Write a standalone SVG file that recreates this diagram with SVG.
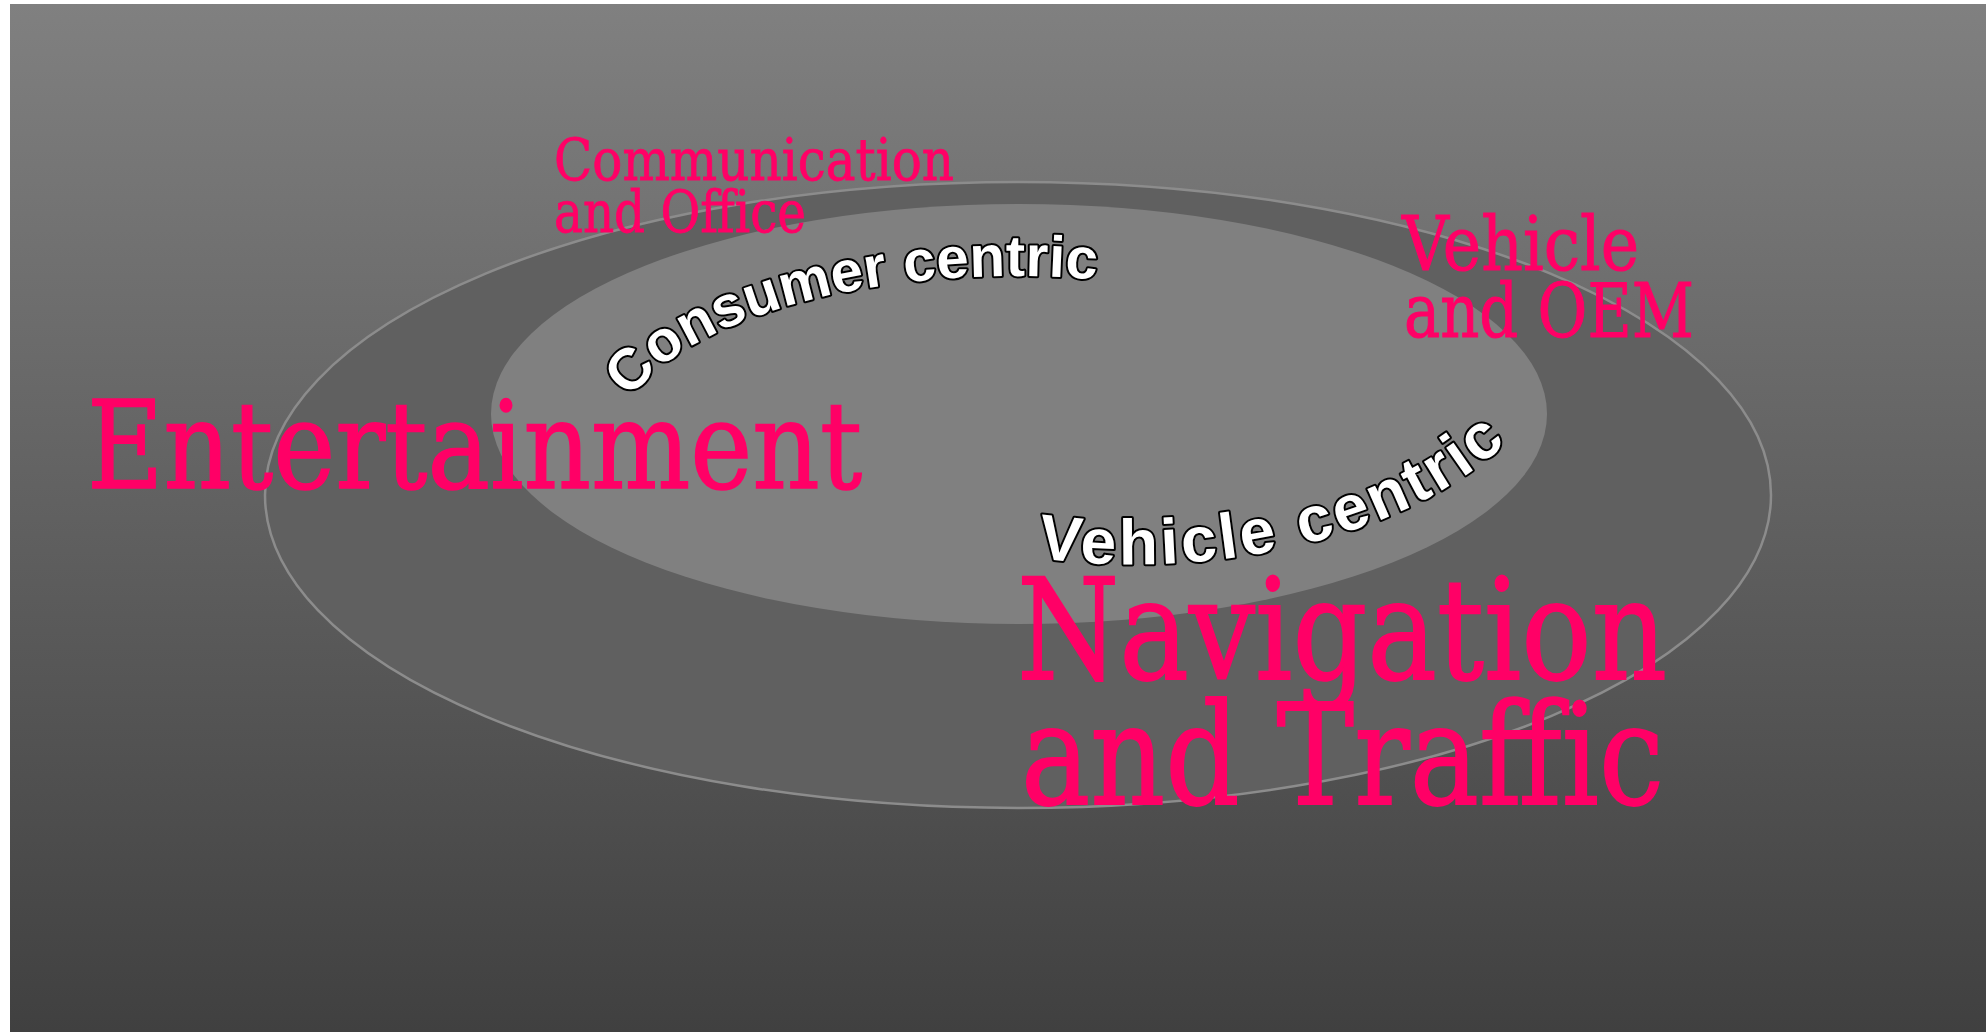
<svg xmlns="http://www.w3.org/2000/svg" width="1986" height="1032" viewBox="0 0 1986 1032">
<defs>
<linearGradient id="bg" x1="0" y1="0" x2="0" y2="1">
<stop offset="0" stop-color="#808080"/>
<stop offset="1" stop-color="#404040"/>
</linearGradient>
<path id="consumerPath" d="M 615 446 A 400 170 0 0 1 1415 446"/>
<path id="vehiclePath" d="M 1000 552 A 440 260 0 0 0 1560 370"/>
</defs>
<style>
.label{font-family:"DejaVu Serif","Liberation Serif",serif;fill:#ff0066;stroke:#ff0066;}
.curve{font-family:"Liberation Sans",Arial,sans-serif;font-weight:bold;fill:#ffffff;stroke:#000000;stroke-width:4;stroke-linejoin:round;paint-order:stroke;}
</style>
<rect x="0" y="0" width="1986" height="1032" fill="#ffffff"/>
<rect x="10" y="4" width="1976" height="1028" fill="url(#bg)"/>
<g id="outer-ring">
<ellipse cx="1018" cy="495" rx="753" ry="313" fill="#606060" stroke="#8c8c8c" stroke-width="2.5"/>
</g>
<g id="inner-ring">
<ellipse cx="1019" cy="414" rx="528" ry="210" fill="#808080"/>
</g>
<g id="consumer-centric">
<text class="curve" font-size="58" letter-spacing="0.3"><textPath href="#consumerPath" startOffset="50">Consumer centric</textPath></text>
</g>
<g id="vehicle-centric">
<text class="curve" font-size="64" letter-spacing="3.5"><textPath href="#vehiclePath" startOffset="38">Vehicle centric</textPath></text>
</g>
<g id="communication">
<text class="label" x="554" y="180" font-size="58" stroke-width="0.8" textLength="400" lengthAdjust="spacingAndGlyphs">Communication</text>
<text class="label" x="554" y="232" font-size="58" stroke-width="0.8" textLength="252" lengthAdjust="spacingAndGlyphs">and Office</text>
</g>
<g id="vehicle-oem">
<text class="label" x="1402" y="270" font-size="75" stroke-width="1" textLength="237" lengthAdjust="spacingAndGlyphs">Vehicle</text>
<text class="label" x="1404" y="337" font-size="75" stroke-width="1" textLength="290" lengthAdjust="spacingAndGlyphs">and OEM</text>
</g>
<g id="entertainment">
<text class="label" x="87" y="488" font-size="122" stroke-width="1.6" textLength="775" lengthAdjust="spacingAndGlyphs">Entertainment</text>
</g>
<g id="navigation">
<text class="label" x="1017" y="679" font-size="140" stroke-width="1.8" textLength="650" lengthAdjust="spacingAndGlyphs">Navigation</text>
<text class="label" x="1021" y="804" font-size="140" stroke-width="1.8" textLength="643" lengthAdjust="spacingAndGlyphs">and Traffic</text>
</g>
<g id="connectors"></g>
</svg>
